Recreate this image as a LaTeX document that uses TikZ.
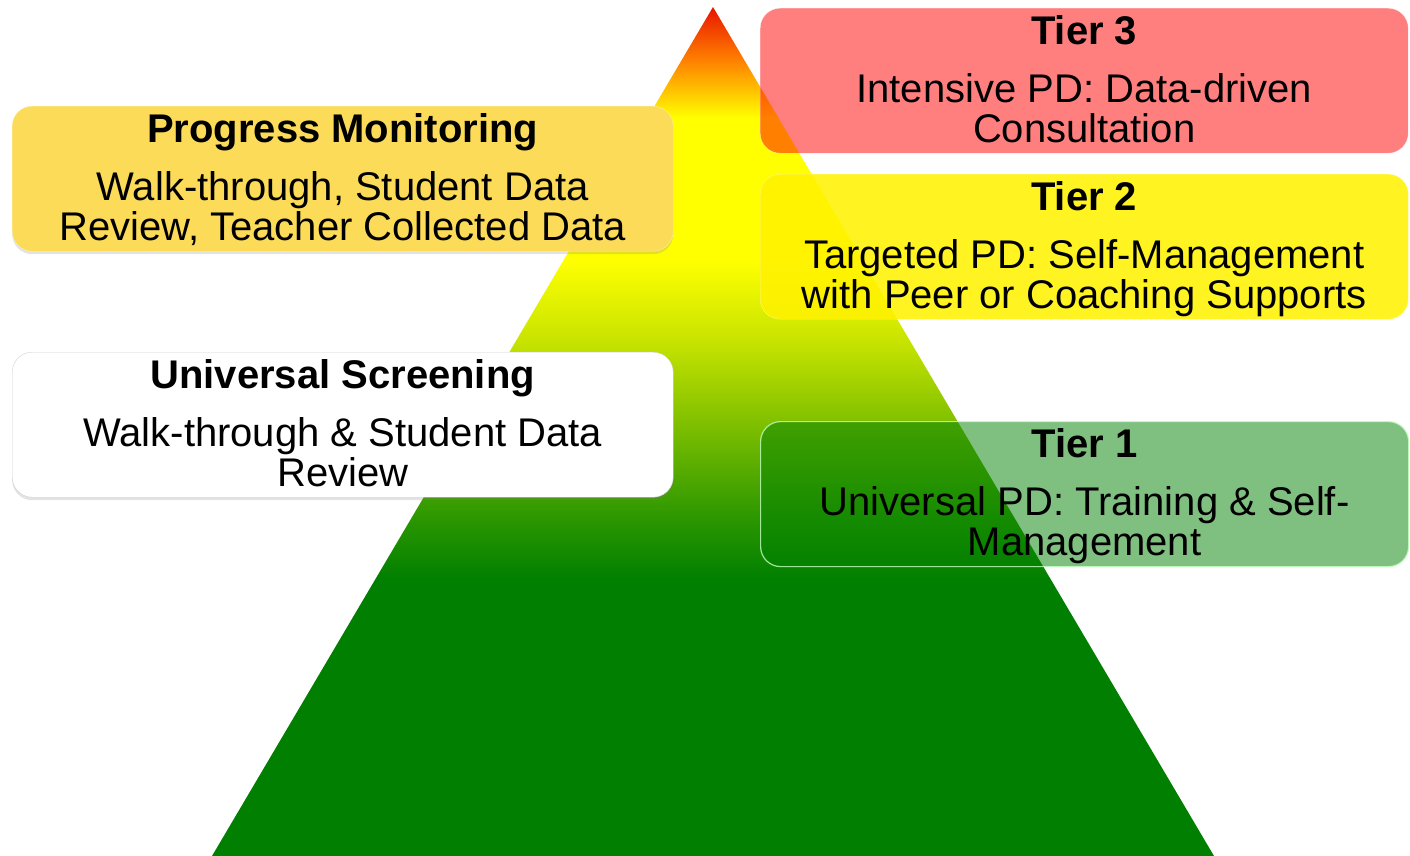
\documentclass[tikz,border=0pt]{standalone}
\usepackage{fontspec}
\setmainfont{Liberation Sans}
\usepackage{tikz}
\usetikzlibrary{positioning,shadows}
\definecolor{pyrred}{RGB}{232,20,0}
\definecolor{pyrorange}{RGB}{255,128,0}
\definecolor{pyryellow}{RGB}{255,255,0}
\definecolor{pyrlime}{RGB}{200,228,0}
\definecolor{pyrleaf}{RGB}{104,180,0}
\definecolor{pyrgrass}{RGB}{42,150,0}
\definecolor{pyrgreen}{RGB}{0,127,0}
\definecolor{pmgold}{RGB}{251,219,88}
\pgfdeclareverticalshading{pyramidshade}{100bp}{
  color(0bp)=(pyrgreen); color(41.25bp)=(pyrgreen);
  color(44.79bp)=(pyrgrass); color(48.91bp)=(pyrleaf);
  color(55.39bp)=(pyrlime); color(60.1bp)=(pyryellow);
  color(68.46bp)=(pyryellow); color(71.88bp)=(pyrorange);
  color(75bp)=(pyrred); color(100bp)=(pyrred)}
\tikzset{
    sidebox/.style={rounded corners=20pt, minimum width=661pt, minimum height=145pt,
        inner sep=0pt, anchor=north west},
    tierbox/.style={sidebox, minimum width=648pt},
    boxtitle/.style={font=\bfseries\fontsize{40}{40}\selectfont, inner sep=0pt},
    boxtext/.style={font=\fontsize{40}{40}\selectfont, inner sep=0pt, align=center},
    softshadow/.style={drop shadow={opacity=0.22, shadow xshift=0pt, shadow yshift=-3pt}},
}

\begin{document}
\begin{tikzpicture}[x=1pt,y=1pt]
   \useasboundingbox (0,0) rectangle (1410,-856);
   % pyramid
   \shade[shading=pyramidshade] (713,-7) -- (1214,-856) -- (212,-856) -- cycle;
   % left boxes
   \node[sidebox, softshadow, fill=pmgold, draw=pmgold!50!white] (pm) at (12,-106) {};
   \node[boxtitle, below=7pt of pm.north] (pm_title) {Progress Monitoring};
   \node[boxtext, below=65pt of pm.north] (pm_text) {Walk-through, Student Data\\Review, Teacher Collected Data};
   \node[sidebox, softshadow, fill=white, draw=gray!35] (us) at (12,-352) {};
   \node[boxtitle, below=7pt of us.north] (us_title) {Universal Screening};
   \node[boxtext, below=65pt of us.north] (us_text) {Walk-through \& Student Data\\Review};
   % tiers
   \node[tierbox, fill=red, fill opacity=0.5, draw=white, draw opacity=0.6] (tier_3) at (760,-8) {};
   \node[boxtitle, below=7pt of tier_3.north] (tier_3_title) {Tier 3};
   \node[boxtext, below=65pt of tier_3.north] (tier_3_text) {Intensive PD: Data-driven\\Consultation};
   \node[tierbox, fill=yellow, fill opacity=0.87, draw=yellow!40!white, draw opacity=0.8] (tier_2) at (760,-174) {};
   \node[boxtitle, below=7pt of tier_2.north] (tier_2_title) {Tier 2};
   \node[boxtext, below=65pt of tier_2.north] (tier_2_text) {Targeted PD: Self-Management\\with Peer or Coaching Supports};
   \node[tierbox, fill=green!50!black, fill opacity=0.5, draw=green!25!white, draw opacity=0.8, line width=1.2pt] (tier_1) at (760,-421) {};
   \node[boxtitle, below=7pt of tier_1.north] (tier_1_title) {Tier 1};
   \node[boxtext, below=65pt of tier_1.north] (tier_1_text) {Universal PD: Training \& Self-\\Management};
\end{tikzpicture}
\end{document}
